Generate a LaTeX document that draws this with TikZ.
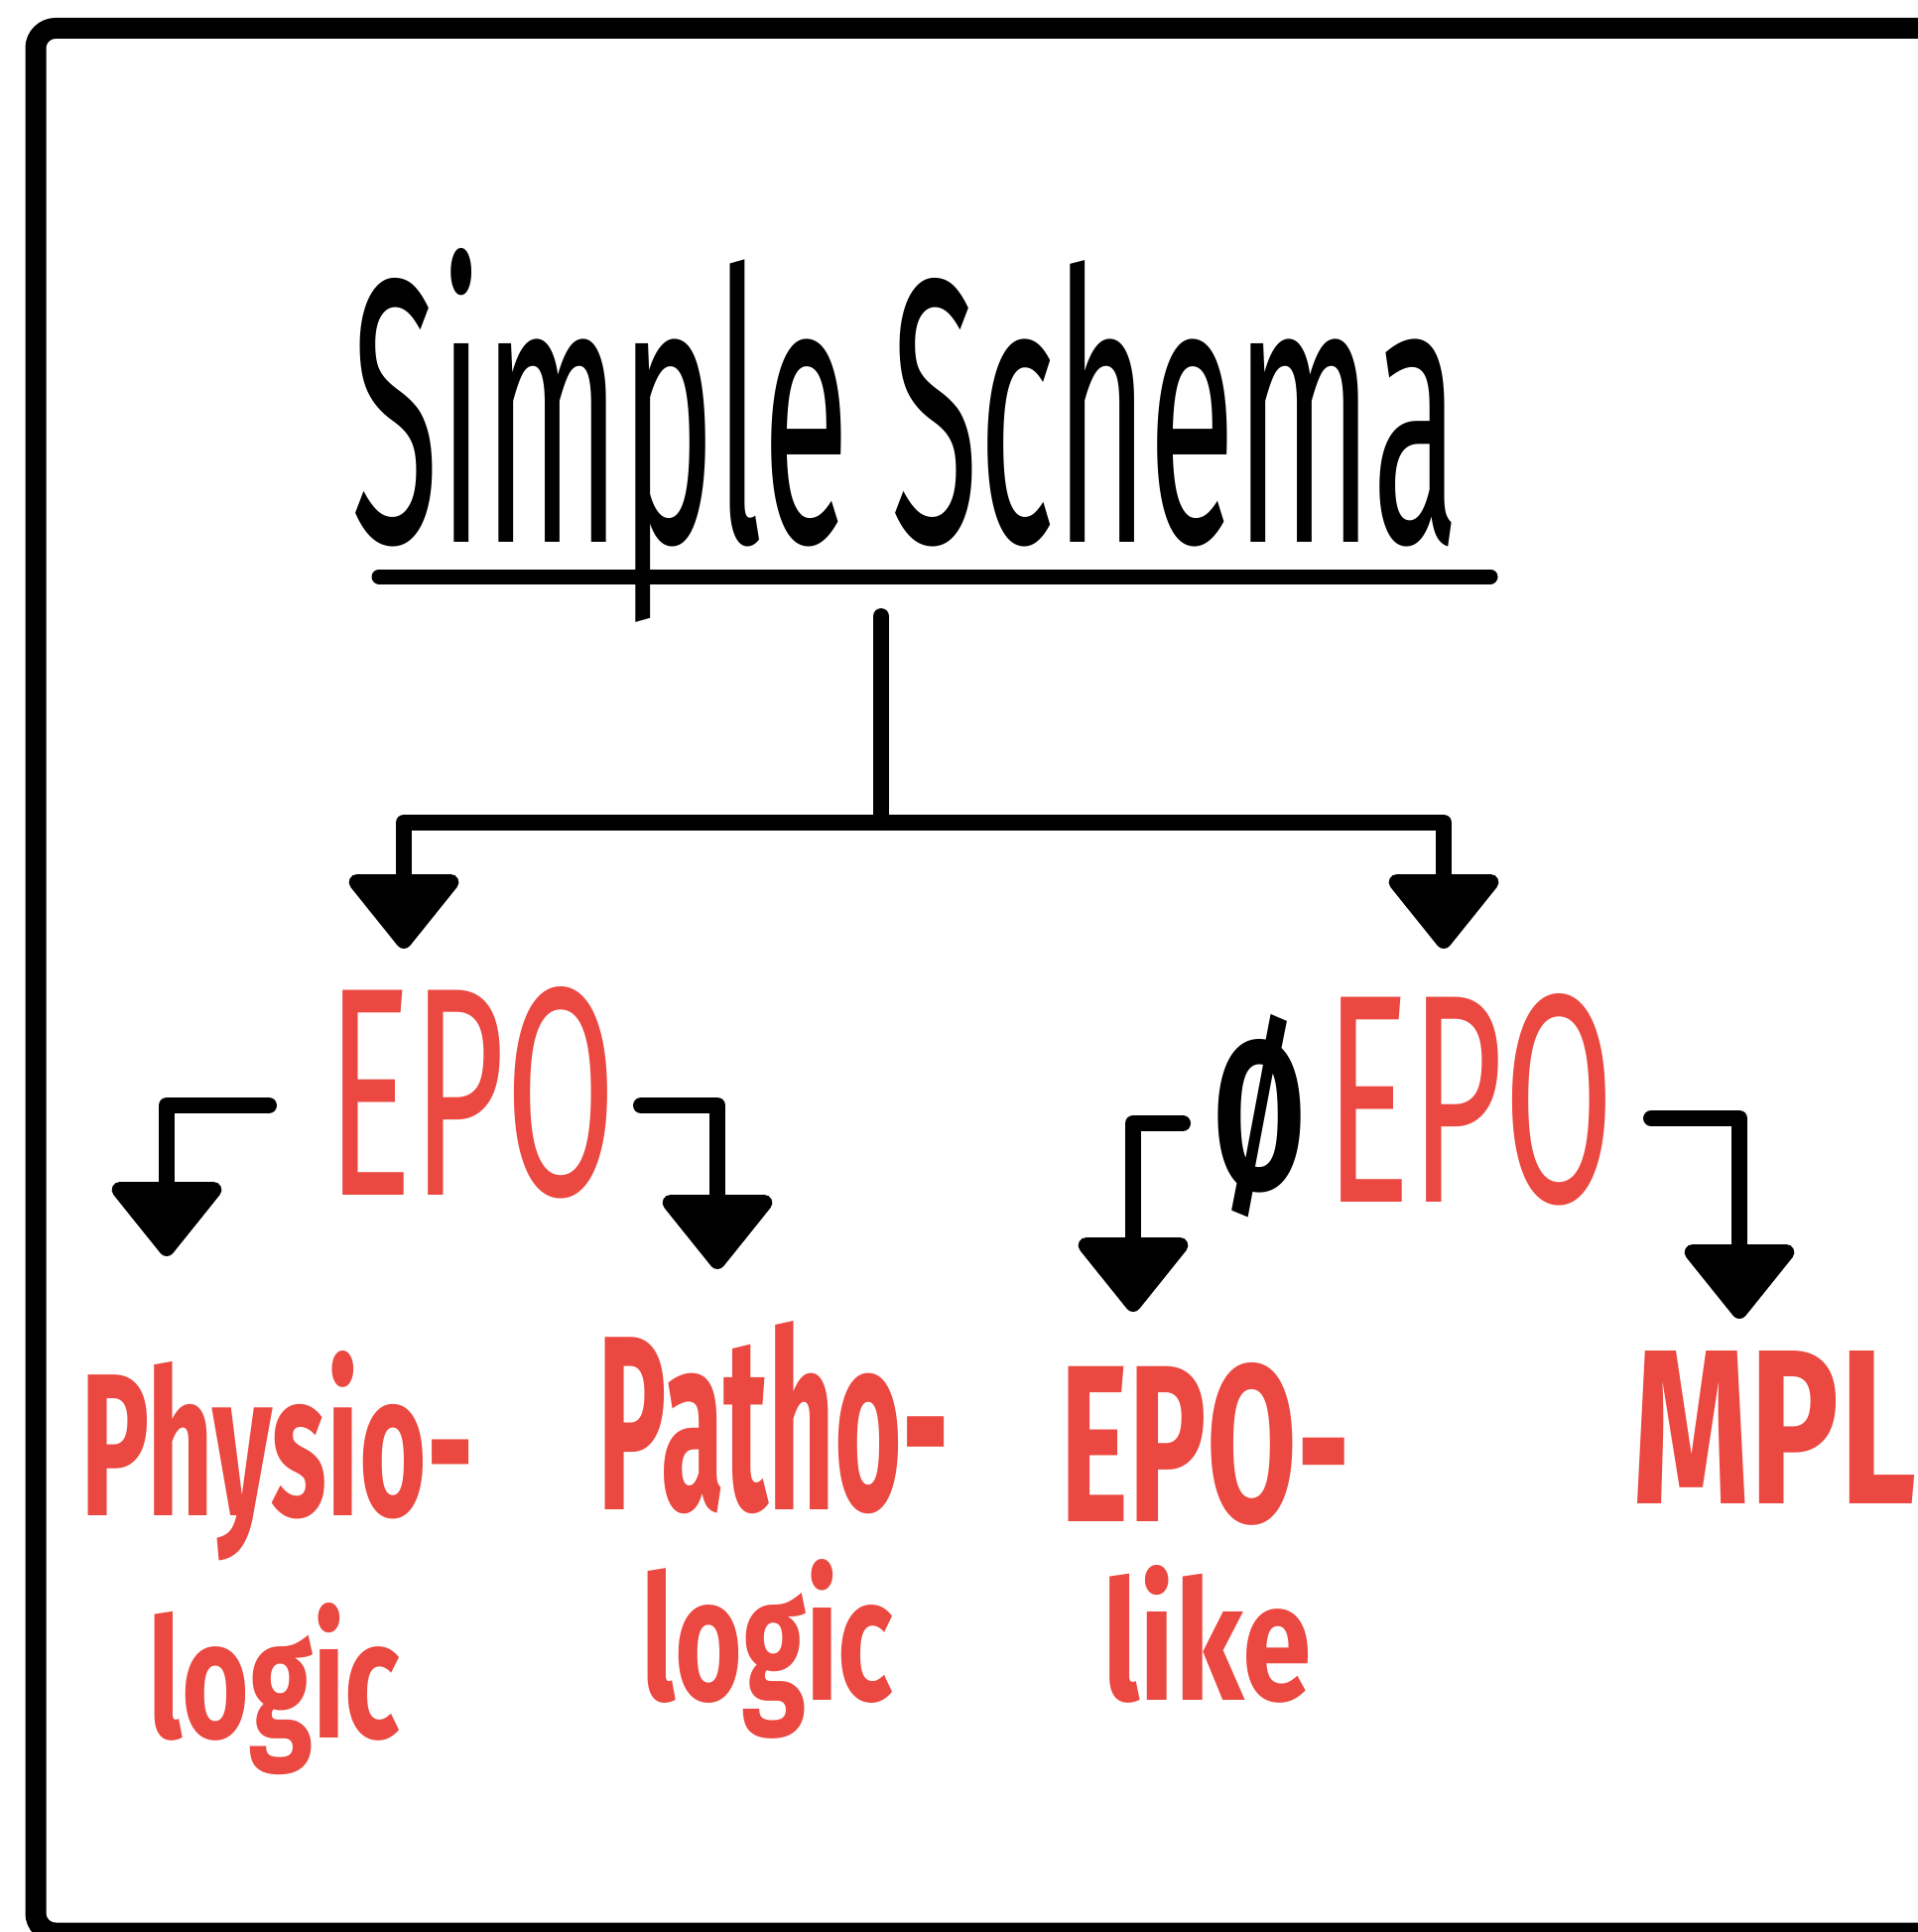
\documentclass[tikz,border=0pt]{standalone}
\usepackage{fontspec}
\setmainfont{Fira Sans}
\usepackage{graphicx}
\usetikzlibrary{arrows.meta}
\definecolor{hred}{RGB}{234,72,64}
\newcommand{\fitbox}[3]{\resizebox{#1}{#2}{#3}}
\begin{document}
\begin{tikzpicture}[x=0.5pt,y=-0.5pt,
  ink/.style={line width=8pt,line cap=round,line join=round},
  arr/.style={ink,-{Triangle[width=62pt,length=40pt,round]}},
  lbl/.style={inner sep=0pt,anchor=base west},
  redmid/.style={lbl,text=hred},
  redbold/.style={lbl,text=hred,font=\bfseries}]
\useasboundingbox (0,0) rectangle (1932,1947);
% frame (open on the right)
\draw[line width=10.5pt,rounded corners=10pt] (1980,28.5) -- (36,28.5) -- (36,1948) -- (1980,1948);
% title
\node[lbl] (title) at (354,546) {\fitbox{558pt}{148pt}{Simple Schema}};
\coordinate (ulA) at (382,581);
\coordinate (ulB) at (1502,581);
\draw[line width=7.5pt,line cap=round] (ulA) -- (ulB);
% first level
\node[redmid] (epo) at (329,1204) {\fitbox{146pt}{105pt}{EPO}};
\node[lbl,font=\bfseries] (null) at (1223,1198) {\fitbox{46pt}{88pt}{Ø}};
\node[redmid] (nepo) at (1335,1211) {\fitbox{146pt}{105pt}{EPO}};
% leaves
\node[redbold] (phys) at (81,1527) {\fitbox{198pt}{83pt}{Physio-}};
\node[redbold] (physb) at (149,1751) {\fitbox{127pt}{68pt}{logic}};
\node[redbold] (path) at (602,1521) {\fitbox{177pt}{95pt}{Patho-}};
\node[redbold] (pathb) at (646,1713) {\fitbox{127pt}{71pt}{logic}};
\node[redbold] (epol) at (1068,1533) {\fitbox{146pt}{80pt}{EPO-}};
\node[redbold] (epolb) at (1111,1713) {\fitbox{105pt}{68pt}{like}};
\node[redbold] (mpl) at (1645,1515) {\fitbox{143pt}{77pt}{MPL}};
% connector points
\coordinate (stem) at (888,621);
\coordinate (hub) at (888,829);
\coordinate (tEpo) at (407,956);
\coordinate (tNepo) at (1455,956);
\coordinate (sL1) at (271,1114);
\coordinate (tL1) at (168,1266);
\coordinate (sL2) at (646,1114);
\coordinate (tL2) at (723,1279);
\coordinate (sR1) at (1192,1132);
\coordinate (tR1) at (1142,1322);
\coordinate (sR2) at (1664,1127);
\coordinate (tR2) at (1753,1329);
% connectors
\draw[ink] (stem) -- (hub);
\draw[arr] (hub) -| (tEpo);
\draw[arr] (hub) -| (tNepo);
\draw[arr] (sL1) -| (tL1);
\draw[arr] (sL2) -| (tL2);
\draw[arr] (sR1) -| (tR1);
\draw[arr] (sR2) -| (tR2);
\end{tikzpicture}
\end{document}
